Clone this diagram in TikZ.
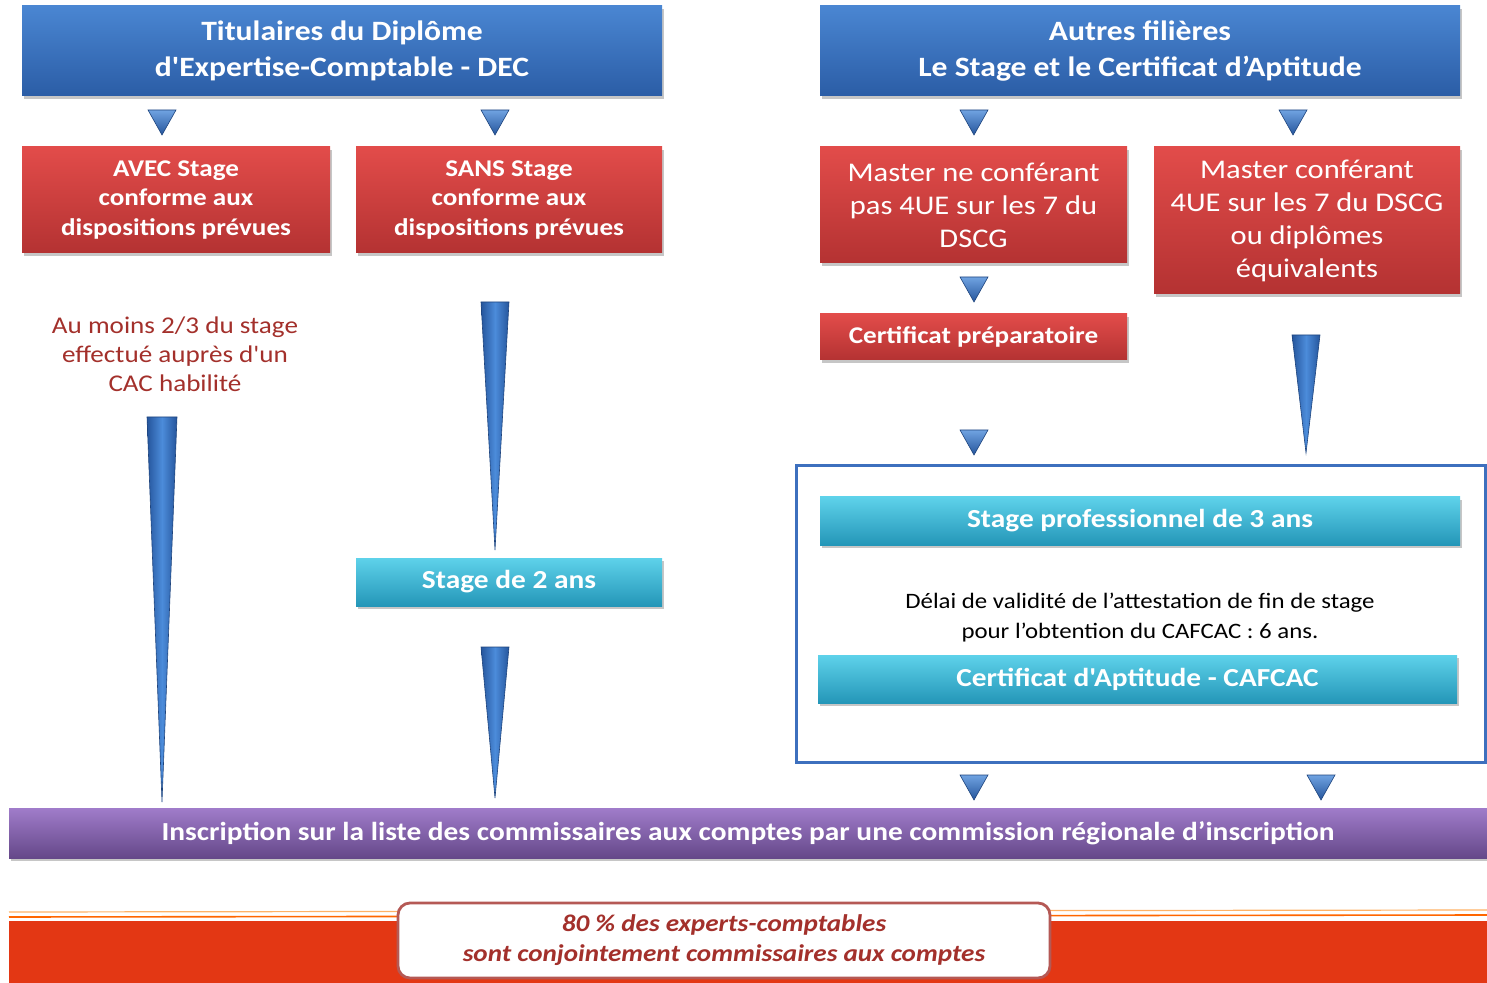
\documentclass[tikz,border=0pt]{standalone}
\usepackage{fontspec}
\setmainfont{Carlito}[FakeStretch=1.13, Ligatures=TeXOff]
\usetikzlibrary{shadows,calc}
\definecolor{bluetop}{HTML}{4A86D2}
\definecolor{bluebot}{HTML}{2B5DA6}
\definecolor{redtop}{HTML}{E24C4A}
\definecolor{redbot}{HTML}{B43232}
\definecolor{cyantop}{HTML}{5ED2EA}
\definecolor{cyanbot}{HTML}{2496B8}
\definecolor{purtop}{HTML}{A07CCA}
\definecolor{purbot}{HTML}{654889}
\definecolor{arrowmid}{HTML}{4C8CDA}
\definecolor{arrowdark}{HTML}{25559C}
\definecolor{darkred}{HTML}{A3302B}
\definecolor{frameblue}{HTML}{3D70BE}
\definecolor{bandred}{HTML}{E33714}
\tikzset{
  shbox/.style={inner sep=0pt, align=center, text=white, draw=none,
    drop shadow={shadow xshift=1.2pt, shadow yshift=-1.5pt, opacity=0.45}},
  bluebox/.style={shbox, top color=bluetop, bottom color=bluebot, font=\bfseries\fontsize{14}{18}\selectfont},
  redbox/.style={shbox, top color=redtop, bottom color=redbot},
  redbold/.style={redbox, font=\bfseries\fontsize{12}{14.6}\selectfont},
  redreg/.style={redbox, font=\fontsize{13.5}{16.5}\selectfont},
  cyanbox/.style={shbox, top color=cyantop, bottom color=cyanbot, font=\bfseries\fontsize{13}{15}\selectfont},
  purbox/.style={shbox, top color=purtop, bottom color=purbot, font=\bfseries\fontsize{13}{15}\selectfont},
  tri/.style={top color=arrowmid!80!white, bottom color=arrowdark, draw=arrowdark!80!black, line width=0.3pt},
  taper/.style={left color=arrowdark, right color=arrowdark, middle color=arrowmid, draw=arrowdark!80!black, line width=0.3pt},
}
\newcommand{\smalltri}[2]{\path[tri] (#1-14,#2) -- (#1+14,#2) -- (#1,#2+25) -- cycle;}
\newcommand{\taperarrow}[4]{\path[taper] (#1-#4,#2) -- (#1+#4,#2) -- (#1,#3) -- cycle;}
\begin{document}
\begin{tikzpicture}[x=0.5pt,y=-0.5pt]
\useasboundingbox (0,0) rectangle (1487,983);
% headers
\node[bluebox, minimum width=320pt, minimum height=45pt] (hdrL) at (342,51) {Titulaires du Diplôme\\d'Expertise-Comptable - DEC};
\node[bluebox, minimum width=320pt, minimum height=45pt] (hdrR) at (1140,51) {Autres filières\\Le Stage et le Certificat d’Aptitude};
% red boxes
\node[redbold, minimum width=154pt, minimum height=53pt] (avec) at (176,200) {AVEC Stage\\conforme aux\\dispositions prévues};
\node[redbold, minimum width=153pt, minimum height=53pt] (sans) at (509,200) {SANS Stage\\conforme aux\\dispositions prévues};
\node[redreg, minimum width=153.5pt, minimum height=58pt] (mne) at (973.5,205) {Master ne conférant\\pas 4UE sur les 7 du\\DSCG};
\node[redreg, minimum width=153pt, minimum height=73.5pt] (mconf) at (1307,220.5) {Master conférant\\4UE sur les 7 du DSCG\\ou diplômes\\équivalents};
\node[redbold, minimum width=153.5pt, minimum height=23pt] (cprep) at (973.5,337) {Certificat préparatoire};
% note
\node[text=darkred, align=center, font=\fontsize{12}{14.6}\selectfont] (note) at (175,354) {Au moins 2/3 du stage\\effectué auprès d'un\\CAC habilité};
% cyan boxes
\node[cyanbox, minimum width=153pt, minimum height=24pt] (s2) at (509,582) {Stage de 2 ans};
\draw[frameblue, line width=1.5pt] (796,466) rectangle (1485,762);
\node[cyanbox, minimum width=320pt, minimum height=24pt] (s3) at (1140,521) {Stage professionnel de 3 ans};
\node[cyanbox, minimum width=319.5pt, minimum height=24pt] (caf) at (1137.5,679) {Certificat d'Aptitude - CAFCAC};
\node[align=center, font=\fontsize{11}{15}\selectfont] (delai) at (1140,618) {Délai de validité de l’attestation de fin de stage\\pour l’obtention du CAFCAC : 6 ans.};
% purple bar
\node[purbox, minimum width=739pt, minimum height=25pt] (insc) at (748,833) {Inscription sur la liste des commissaires aux comptes par une commission régionale d’inscription};
% bottom band
\fill[bandred] (9,921) rectangle (1487,983);
\draw[orange!60!white, line width=0.6pt] (9,912) -- (1487,910);
\draw[orange!80!red, line width=0.8pt] (9,917) -- (1487,915);
\node[draw=darkred!80!white, line width=1.4pt, fill=white, rounded corners=6pt, minimum width=326pt, minimum height=37.5pt, inner sep=0pt, align=center, text=darkred, font=\bfseries\itshape\fontsize{12}{15}\selectfont] (pct) at (724,940.5) {80 \% des experts-comptables\\sont conjointement commissaires aux comptes};
% small triangles
\smalltri{162}{110}
\smalltri{495}{110}
\smalltri{974}{110}
\smalltri{1293}{110}
\smalltri{974}{277}
\smalltri{974}{430}
\smalltri{974}{775}
\smalltri{1321}{775}
% tapered arrows
\taperarrow{162}{417}{802}{15}
\taperarrow{495}{302}{550}{14}
\taperarrow{495}{647}{798}{14}
\taperarrow{1306}{335}{453}{14}
\end{tikzpicture}
\end{document}
